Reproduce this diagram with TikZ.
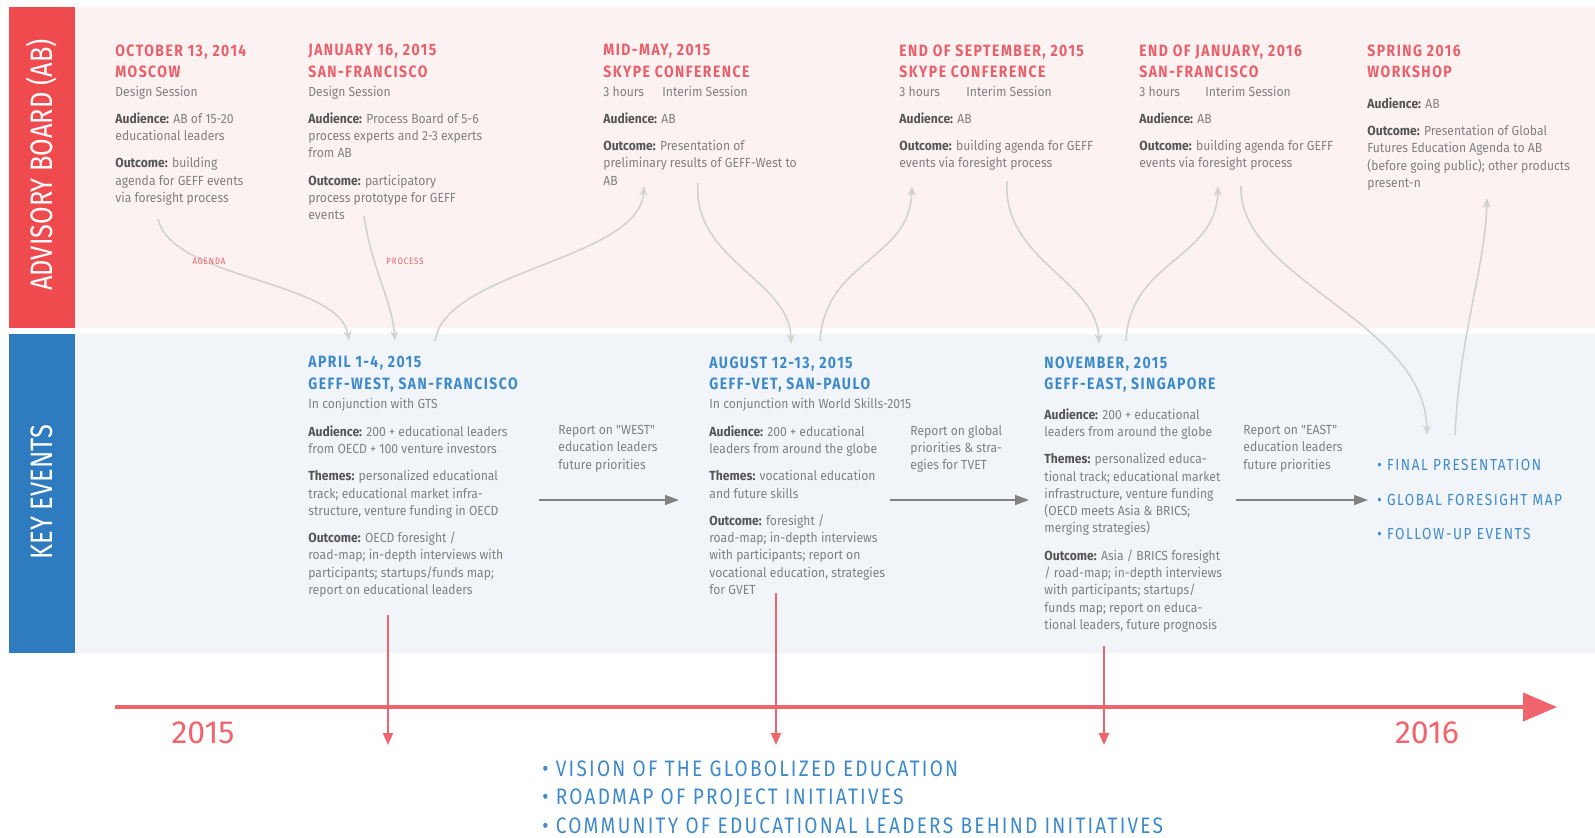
\documentclass[tikz,border=0pt]{standalone}
\usepackage{fontspec}
\setmainfont{Fira Sans}
\newfontfamily\condf[FakeStretch=0.82]{Fira Sans}
\newfontfamily\bodyf[FakeStretch=0.92]{Fira Sans}
\newfontfamily\capsf[FakeStretch=0.85,LetterSpace=10]{Fira Sans}
\newfontfamily\titlef[FakeStretch=0.85,LetterSpace=9]{Fira Sans}
\usetikzlibrary{arrows.meta}
\definecolor{pinkband}{RGB}{253,242,242}
\definecolor{blueband}{RGB}{241,245,250}
\definecolor{redbox}{RGB}{239,75,79}
\definecolor{bluebox}{RGB}{46,123,192}
\definecolor{redtitle}{RGB}{233,96,106}
\definecolor{bluetitle}{RGB}{61,138,203}
\definecolor{bodygrey}{RGB}{128,128,128}
\definecolor{labelgrey}{RGB}{85,85,85}
\definecolor{curvegrey}{RGB}{210,210,210}
\definecolor{linered}{RGB}{240,101,109}
\definecolor{arrowgrey}{RGB}{130,130,130}
\newcommand{\lab}[1]{{\color{labelgrey}\bfseries #1}}
\begin{document}
\begin{tikzpicture}[x=0.5pt,y=-0.5pt,
  sidelabel/.style={rotate=90,text=white,font=\condf\fontsize{15.5}{16}\selectfont,inner sep=0},
  rtitle/.style={anchor=north west,inner sep=0,align=left,text=redtitle,font=\titlef\bfseries\fontsize{8.2}{10.7}\selectfont},
  btitle/.style={anchor=north west,inner sep=0,align=left,text=bluetitle,font=\titlef\bfseries\fontsize{8.2}{10.7}\selectfont},
  sub/.style={anchor=north west,inner sep=0,align=left,text=bodygrey,font=\bodyf\fontsize{6.6}{8.65}\selectfont},
  body/.style={anchor=north west,inner sep=0,align=left,text=bodygrey,font=\bodyf\fontsize{6.6}{8.65}\selectfont},
  tag/.style={inner sep=0,text=redtitle,font=\capsf\fontsize{4.6}{5}\selectfont},
  curve/.style={draw=curvegrey,line width=0.8pt,-{Stealth[length=5pt,width=4pt]}},
  reparrow/.style={draw=arrowgrey,line width=0.8pt,-{Triangle[length=7pt,width=5pt]}},
  downarrow/.style={draw=linered,line width=1pt,-{Triangle[length=6pt,width=5pt]}},
  bullet/.style={anchor=west,inner sep=0,text=bluetitle,font=\capsf\fontsize{8}{9}\selectfont},
  bigbullet/.style={anchor=west,inner sep=0,text=bluetitle,font=\capsf\fontsize{11.2}{12}\selectfont},
  year/.style={inner sep=0,text=linered,font=\fontsize{16}{18}\selectfont}
]
\useasboundingbox (0,0) rectangle (1595,837);
\fill[white] (0,0) rectangle (1595,837);
% bands
\fill[pinkband] (75,7) rectangle (1595,328);
\fill[blueband] (75,334) rectangle (1595,653);
\fill[redbox] (9,7) rectangle (75,328);
\fill[bluebox] (9,334) rectangle (75,653);
\node[sidelabel] (abl) at (42,165) {ADVISORY BOARD (AB)};
\node[sidelabel] (kel) at (42,492) {KEY EVENTS};

% ---------- Advisory board columns ----------
\node[rtitle] (t1) at (115,44) {OCTOBER 13, 2014\\MOSCOW};
\node[sub] (s1) at (115,86) {Design Session};
\node[body] (b1) at (115,112) {\lab{Audience:} AB of 15-20\\educational leaders\\[5pt]\lab{Outcome:} building\\agenda for GEFF events\\via foresight process};

\node[rtitle] (t2) at (308,44) {JANUARY 16, 2015\\SAN-FRANCISCO};
\node[sub] (s2) at (308,86) {Design Session};
\node[body] (b2) at (308,112) {\lab{Audience:} Process Board of 5-6\\process experts and 2-3 experts\\from AB\\[5pt]\lab{Outcome:} participatory\\process prototype for GEFF\\events};

\node[rtitle] (t3) at (603,44) {MID-MAY, 2015\\SKYPE CONFERENCE};
\node[sub] (s3) at (603,86) {3 hours};
\node[sub] (s3b) at (662,86) {Interim Session};
\node[body] (b3) at (603,112) {\lab{Audience:} AB\\[5pt]\lab{Outcome:} Presentation of\\preliminary results of GEFF-West to\\AB};

\node[rtitle] (t4) at (899,44) {END OF SEPTEMBER, 2015\\SKYPE CONFERENCE};
\node[sub] (s4) at (899,86) {3 hours};
\node[sub] (s4b) at (966,86) {Interim Session};
\node[body] (b4) at (899,112) {\lab{Audience:} AB\\[5pt]\lab{Outcome:} building agenda for GEFF\\events via foresight process};

\node[rtitle] (t5) at (1139,44) {END OF JANUARY, 2016\\SAN-FRANCISCO};
\node[sub] (s5) at (1139,86) {3 hours};
\node[sub] (s5b) at (1205,86) {Interim Session};
\node[body] (b5) at (1139,112) {\lab{Audience:} AB\\[5pt]\lab{Outcome:} building agenda for GEFF\\events via foresight process};

\node[rtitle] (t6) at (1367,44) {SPRING 2016\\WORKSHOP};
\node[body] (b6) at (1367,97) {\lab{Audience:} AB\\[5pt]\lab{Outcome:} Presentation of Global\\Futures Education Agenda to AB\\(before going public); other products\\present-n};

% ---------- Key events ----------
\node[btitle] (ea) at (308,356) {APRIL 1-4, 2015\\GEFF-WEST, SAN-FRANCISCO};
\node[sub] (sa) at (308,398) {In conjunction with GTS};
\node[body] (ba) at (308,425) {\lab{Audience:} 200 + educational leaders\\from OECD + 100 venture investors\\[5pt]\lab{Themes:} personalized educational\\track; educational market infra-\\structure, venture funding in OECD\\[5pt]\lab{Outcome:} OECD foresight /\\road-map; in-depth interviews with\\participants; startups/funds map;\\report on educational leaders};

\node[btitle] (eb) at (709,356) {AUGUST 12-13, 2015\\GEFF-VET, SAN-PAULO};
\node[sub] (sb) at (709,398) {In conjunction with World Skills-2015};
\node[body] (bb) at (709,425) {\lab{Audience:} 200 + educational\\leaders from around the globe\\[5pt]\lab{Themes:} vocational education\\and future skills\\[5pt]\lab{Outcome:} foresight /\\road-map; in-depth interviews\\with participants; report on\\vocational education, strategies\\for GVET};

\node[btitle] (ec) at (1044,356) {NOVEMBER, 2015\\GEFF-EAST, SINGAPORE};
\node[body] (bc) at (1044,408) {\lab{Audience:} 200 + educational\\leaders from around the globe\\[5pt]\lab{Themes:} personalized educa-\\tional track; educational market\\infrastructure, venture funding\\(OECD meets Asia \& BRICS;\\merging strategies)\\[5pt]\lab{Outcome:} Asia / BRICS foresight\\/ road-map; in-depth interviews\\with participants; startups/\\funds map; report on educa-\\tional leaders, future prognosis};

\node[body] (r1) at (558,425) {Report on "WEST"\\education leaders\\future priorities};
\node[body] (r2) at (910,425) {Report on global\\priorities \& stra-\\egies for TVET};
\node[body] (r3) at (1243,425) {Report on "EAST"\\education leaders\\future priorities};

\coordinate (r1s) at (539,500); \coordinate (r1e) at (679,500);
\coordinate (r2s) at (890,500); \coordinate (r2e) at (1029,500);
\coordinate (r3s) at (1236,500); \coordinate (r3e) at (1368,500);
\draw[reparrow] (r1s) -- (r1e);
\draw[reparrow] (r2s) -- (r2e);
\draw[reparrow] (r3s) -- (r3e);

\node[bullet] (f1) at (1377,465) {• FINAL PRESENTATION};
\node[bullet] (f2) at (1377,500) {• GLOBAL FORESIGHT MAP};
\node[bullet] (f3) at (1377,534) {• FOLLOW-UP EVENTS};

% ---------- curved connectors ----------
\coordinate (c1s) at (158,219); \coordinate (c1e) at (349,341);
\coordinate (c2s) at (364,216); \coordinate (c2e) at (395,341);
\coordinate (c3s) at (435,341); \coordinate (c3e) at (644,186);
\coordinate (c4s) at (698,183); \coordinate (c4e) at (791,344);
\coordinate (c5s) at (820,341); \coordinate (c5e) at (912,186);
\coordinate (c6s) at (1007,181); \coordinate (c6e) at (1099,344);
\coordinate (c7s) at (1126,341); \coordinate (c7e) at (1218,186);
\coordinate (c8s) at (1241,186); \coordinate (c8e) at (1427,435);
\coordinate (c9s) at (1455,435); \coordinate (c9e) at (1487,198);
\draw[curve] (c1s) .. controls (172,280) and (340,280) .. (c1e);
\draw[curve] (c2s) .. controls (372,270) and (392,300) .. (c2e);
\draw[curve] (c3s) .. controls (445,270) and (640,260) .. (c3e);
\draw[curve] (c4s) .. controls (692,260) and (790,280) .. (c4e);
\draw[curve] (c5s) .. controls (825,260) and (910,260) .. (c5e);
\draw[curve] (c6s) .. controls (1002,260) and (1097,280) .. (c6e);
\draw[curve] (c7s) .. controls (1130,260) and (1216,260) .. (c7e);
\draw[curve] (c8s) .. controls (1238,280) and (1425,320) .. (c8e);
\draw[curve] (c9s) .. controls (1460,330) and (1485,270) .. (c9e);
\node[tag] (agenda) at (209,261) {AGENDA};
\node[tag] (process) at (405,261) {PROCESS};

% ---------- timeline ----------
\coordinate (tl0) at (115,707); \coordinate (tl1) at (1557,707);
\draw[linered,line width=2pt,-{Triangle[length=17pt,width=14pt]}] (tl0) -- (tl1);
\node[year] (y15) at (203,733) {2015};
\node[year] (y16) at (1427,733) {2016};
\coordinate (d1s) at (388,615); \coordinate (d1e) at (388,745);
\coordinate (d2s) at (776,593); \coordinate (d2e) at (776,745);
\coordinate (d3s) at (1104,646); \coordinate (d3e) at (1104,745);
\draw[downarrow] (d1s) -- (d1e);
\draw[downarrow] (d2s) -- (d2e);
\draw[downarrow] (d3s) -- (d3e);

\node[bigbullet] (v1) at (542,769) {• VISION OF THE GLOBOLIZED EDUCATION};
\node[bigbullet] (v2) at (542,798) {• ROADMAP OF PROJECT INITIATIVES};
\node[bigbullet] (v3) at (542,826) {• COMMUNITY OF EDUCATIONAL LEADERS BEHIND INITIATIVES};
\end{tikzpicture}
\end{document}
